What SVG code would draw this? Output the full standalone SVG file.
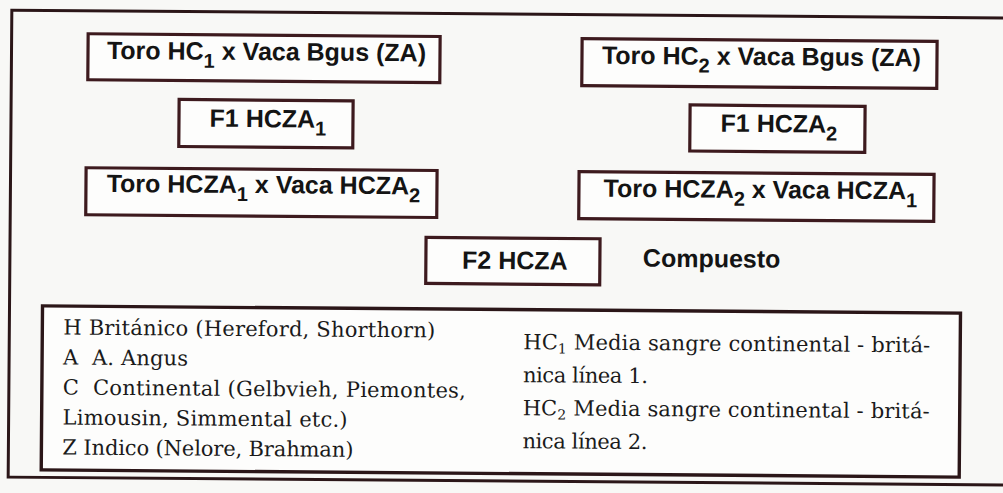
<svg xmlns="http://www.w3.org/2000/svg" width="1003" height="493" viewBox="0 0 1003 493">
<style>
.bg{fill:#f8f8f6}
.frame{fill:none;stroke:#2b1618;stroke-width:3}
.box{fill:#fdfdfc;stroke:#3d1a1e;stroke-width:3.2}
.lbl{font-family:"Liberation Sans",Arial,sans-serif;font-weight:bold;font-size:25px;fill:#141414;text-anchor:middle}
.plain{font-family:"Liberation Sans",Arial,sans-serif;font-weight:bold;font-size:25px;fill:#141414}
.sub{font-size:20px}
.legbox{fill:#fdfdfc;stroke:#2b1618;stroke-width:3.4}
.leg{font-family:"DejaVu Serif","Liberation Serif",serif;font-size:21px;fill:#1a1a1a}
.lsub{font-size:14px}
</style>
<rect class="bg" width="1003" height="493"/>
<g transform="rotate(0.45 501 246)">
<rect class="frame" x="10" y="14" width="1012" height="467"/>
<g id="connectors"></g>
<g id="n-toro-hc1">
<rect class="box" x="86.5" y="37" width="352" height="46"/>
<text class="lbl" x="265" y="62">Toro HC<tspan class="sub" dy="8">1</tspan><tspan dy="-8"> x Vaca Bgus (ZA)</tspan></text>
</g>
<g id="n-f1-hcza1">
<rect class="box" x="178" y="102" width="174" height="47"/>
<text class="lbl" x="267" y="129">F1 HCZA<tspan class="sub" dy="8">1</tspan></text>
</g>
<g id="n-toro-hcza1">
<rect class="box" x="85.5" y="171" width="351" height="47"/>
<text class="lbl" x="263" y="195">Toro HCZA<tspan class="sub" dy="8">1</tspan><tspan dy="-8"> x Vaca HCZA</tspan><tspan class="sub" dy="8">2</tspan></text>
</g>
<g id="n-toro-hc2">
<rect class="box" x="580.5" y="38" width="355" height="47"/>
<text class="lbl" x="760" y="63">Toro HC<tspan class="sub" dy="8">2</tspan><tspan dy="-8"> x Vaca Bgus (ZA)</tspan></text>
</g>
<g id="n-f1-hcza2">
<rect class="box" x="689" y="103.5" width="175" height="46"/>
<text class="lbl" x="778" y="130">F1 HCZA<tspan class="sub" dy="8">2</tspan></text>
</g>
<g id="n-toro-hcza2">
<rect class="box" x="578.5" y="171" width="355" height="47"/>
<text class="lbl" x="760" y="196">Toro HCZA<tspan class="sub" dy="8">2</tspan><tspan dy="-8"> x Vaca HCZA</tspan><tspan class="sub" dy="8">1</tspan></text>
</g>
<g id="n-f2-hcza">
<rect class="box" x="426" y="238" width="174" height="46"/>
<text class="lbl" x="515" y="269">F2 HCZA</text>
</g>
<g id="n-compuesto">
<text class="plain" x="643" y="265.5">Compuesto</text>
</g>
<g id="n-legend">
<rect class="legbox" x="43" y="309.5" width="918" height="164"/>
<text class="leg" x="64" y="338" textLength="372">H Británico (Hereford, Shorthorn)</text>
<text class="leg" x="64" y="368" textLength="125" xml:space="preserve">A  A. Angus</text>
<text class="leg" x="64" y="398" textLength="403" xml:space="preserve">C  Continental (Gelbvieh, Piemontes,</text>
<text class="leg" x="64" y="428" textLength="285">Limousin, Simmental etc.)</text>
<text class="leg" x="64" y="458" textLength="291">Z Indico (Nelore, Brahman)</text>
<text class="leg" x="524" y="349" textLength="407">HC<tspan class="lsub" dy="4">1</tspan><tspan dy="-4"> Media sangre continental - britá-</tspan></text>
<text class="leg" x="524" y="382" textLength="125">nica línea 1.</text>
<text class="leg" x="524" y="415" textLength="407">HC<tspan class="lsub" dy="4">2</tspan><tspan dy="-4"> Media sangre continental - britá-</tspan></text>
<text class="leg" x="524" y="448" textLength="125">nica línea 2.</text>
</g>
</g>
</svg>
